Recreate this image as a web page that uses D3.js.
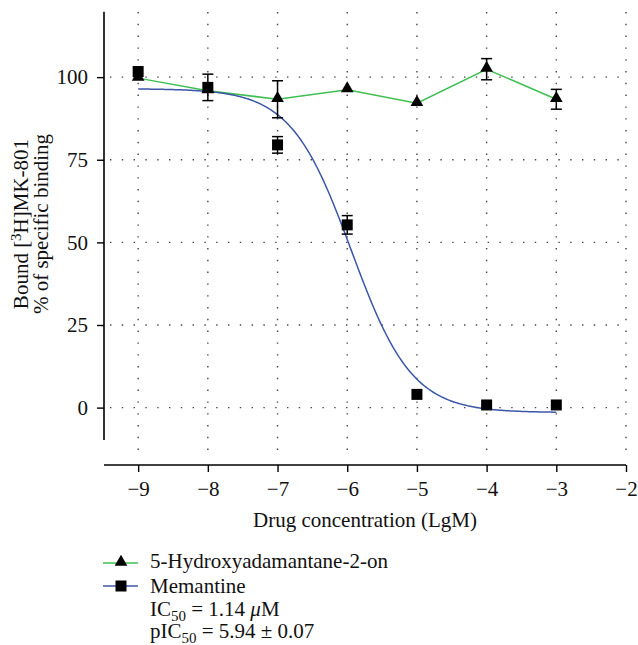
<!DOCTYPE html>
<html>
<head>
<meta charset="utf-8">
<script src="https://cdn.jsdelivr.net/npm/d3@7"></script>
<style>
	body { margin: 0; background: #fff; }
	svg text { fill: #111; }
</style>
</head>
<body>
<svg id="chart"></svg>
<script>
// data
const logConc = [-9, -8, -7, -6, -5, -4, -3]
const hydroxyMean = [99.7, 95.9, 93.3, 96.2, 92.1, 102.4, 93.3]
const hydroxyErr = [0, 0, 5.6, 0, 0, 3.2, 3.0]
const memantineMean = [101.7, 96.9, 79.5, 55.3, 4.0, 0.8, 0.8]
const memantineErr = [0, 4.0, 2.5, 2.8, 0, 0, 0]
// sigmoid fit parameters (top, bottom, logIC50, hill slope)
const fitTop = 96.5
const fitBottom = -1.5
const fitLogIC50 = -5.94
const fitHill = 1
const xTicks = [-9, -8, -7, -6, -5, -4, -3, -2]
const yTicks = [0, 25, 50, 75, 100]

const WIDTH = 638
const HEIGHT = 645
const GREEN = '#3fbf52'
const BLUE = '#3b57a8'
const FONT = "'Liberation Serif', 'Times New Roman', 'DejaVu Serif', serif"
const FS = '21px'
const SUB = '15px'

const svg = d3.select('#chart')
	.attr('width', WIDTH)
	.attr('height', HEIGHT)
	.attr('font-family', FONT)

const x = d3.scaleLinear().domain([-9.49, -2]).range([104, 626])
const y = d3.scaleLinear().domain([-9.8, 119.8]).range([440, 11.7])

// dotted grid
const grid = svg.append('g').attr('class', 'grid')
	.attr('stroke', '#444')
	.attr('stroke-width', 1.4)
	.attr('stroke-dasharray', '1.4,10.4')
grid.selectAll('line.h')
	.data(yTicks)
	.join('line')
	.attr('class', 'h')
	.attr('x1', 110).attr('x2', x(-2))
	.attr('y1', d => y(d)).attr('y2', d => y(d))
grid.selectAll('line.v')
	.data(xTicks)
	.join('line')
	.attr('class', 'v')
	.attr('x1', d => x(d)).attr('x2', d => x(d))
	.attr('y1', 12).attr('y2', 458)

// y axis (offset from x axis, Prism style)
const yAxis = svg.append('g')
	.attr('transform', `translate(104, 0)`)
	.call(d3.axisLeft(y).tickValues(yTicks).tickSize(7).tickPadding(9))
yAxis.attr('font-family', FONT).attr('font-size', FS)
yAxis.select('.domain').attr('d', `M0,${y.range()[0]}V${y.range()[1]}`)
	.attr('stroke-width', 1.6)
yAxis.selectAll('.tick line').attr('stroke-width', 1.4)

// x axis
const xAxis = svg.append('g')
	.attr('transform', `translate(0, 465)`)
	.call(d3.axisBottom(x).tickValues(xTicks).tickSize(7).tickPadding(9)
		.tickFormat(d => String(d).replace('-', '\u2212')))
xAxis.attr('font-family', FONT).attr('font-size', FS)
xAxis.select('.domain').attr('d', `M${x.range()[0]},0H${x.range()[1]}`)
	.attr('stroke-width', 1.6)
xAxis.selectAll('.tick line').attr('stroke-width', 1.4)

// axis titles
svg.append('text')
	.attr('x', 365).attr('y', 527)
	.attr('text-anchor', 'middle')
	.attr('font-size', FS)
	.text('Drug concentration (LgM)')

const yTitle = svg.append('g').attr('transform', 'translate(0, 224) rotate(-90)')
const line1 = yTitle.append('text')
	.attr('x', 0).attr('y', 28)
	.attr('text-anchor', 'middle')
	.attr('font-size', FS)
line1.append('tspan').text('Bound [')
line1.append('tspan').attr('font-size', SUB).attr('dy', -7).text('3')
line1.append('tspan').attr('dy', 7).text('H]MK-801')
yTitle.append('text')
	.attr('x', 0).attr('y', 48)
	.attr('text-anchor', 'middle')
	.attr('font-size', FS)
	.text('% of specific binding')

const hydroxy = logConc.map((c, i) => ({c, v: hydroxyMean[i], e: hydroxyErr[i]}))
const memantine = logConc.map((c, i) => ({c, v: memantineMean[i], e: memantineErr[i]}))

// hydroxyadamantanone: straight segments through points
const lineGen = d3.line().x(d => x(d.c)).y(d => y(d.v))
svg.append('path')
	.datum(hydroxy)
	.attr('d', lineGen)
	.attr('fill', 'none')
	.attr('stroke', GREEN)
	.attr('stroke-width', 1.5)

// memantine: fitted sigmoid
const sigmoid = c => fitBottom + (fitTop - fitBottom) / (1 + Math.pow(10, (c - fitLogIC50) * fitHill))
const fitPts = d3.range(-9, -2.999, 0.02).map(c => ({c, v: sigmoid(c)}))
svg.append('path')
	.datum(fitPts)
	.attr('d', lineGen)
	.attr('fill', 'none')
	.attr('stroke', BLUE)
	.attr('stroke-width', 1.5)

// error bars
function drawErrors (data) {
	const g = svg.append('g').attr('stroke', '#000').attr('stroke-width', 1.5)
	data.filter(d => d.e > 0).forEach(d => {
		const cx = x(d.c)
		const y0 = y(d.v - d.e)
		const y1 = y(d.v + d.e)
		g.append('line').attr('x1', cx).attr('x2', cx).attr('y1', y0).attr('y2', y1)
		g.append('line').attr('x1', cx - 5.5).attr('x2', cx + 5.5).attr('y1', y0).attr('y2', y0)
		g.append('line').attr('x1', cx - 5.5).attr('x2', cx + 5.5).attr('y1', y1).attr('y2', y1)
	})
}
drawErrors(hydroxy)
drawErrors(memantine)

const triangle = d3.symbol().type(d3.symbolTriangle).size(70)
const square = d3.symbol().type(d3.symbolSquare).size(121)

svg.append('g').selectAll('path')
	.data(hydroxy)
	.join('path')
	.attr('d', triangle)
	.attr('transform', d => `translate(${x(d.c)}, ${y(d.v) - 1})`)
	.attr('fill', '#000')

svg.append('g').selectAll('path')
	.data(memantine)
	.join('path')
	.attr('d', square)
	.attr('transform', d => `translate(${x(d.c)}, ${y(d.v)})`)
	.attr('fill', '#000')

// legend
const legend = svg.append('g').attr('font-size', FS)
legend.append('line')
	.attr('x1', 103).attr('x2', 138).attr('y1', 563).attr('y2', 563)
	.attr('stroke', GREEN).attr('stroke-width', 1.5)
legend.append('path').attr('d', triangle)
	.attr('transform', 'translate(121, 562)')
legend.append('text')
	.attr('x', 150).attr('y', 568)
	.text('5-Hydroxyadamantane-2-on')

legend.append('line')
	.attr('x1', 103).attr('x2', 138).attr('y1', 586).attr('y2', 586)
	.attr('stroke', BLUE).attr('stroke-width', 1.5)
legend.append('path').attr('d', square)
	.attr('transform', 'translate(121, 586)')
legend.append('text')
	.attr('x', 150).attr('y', 593)
	.text('Memantine')

const ic = legend.append('text')
	.attr('x', 150).attr('y', 616)
ic.append('tspan').text('IC')
ic.append('tspan').attr('font-size', SUB).attr('dy', 5).text('50')
ic.append('tspan').attr('dy', -5).text(' = 1.14 ')
ic.append('tspan').attr('font-style', 'italic').text('\u03bc')
ic.append('tspan').text('M')

const pic = legend.append('text')
	.attr('x', 150).attr('y', 638)
pic.append('tspan').text('pIC')
pic.append('tspan').attr('font-size', SUB).attr('dy', 5).text('50')
pic.append('tspan').attr('dy', -5).text(' = 5.94 \u00b1 0.07')
</script>
</body>
</html>
